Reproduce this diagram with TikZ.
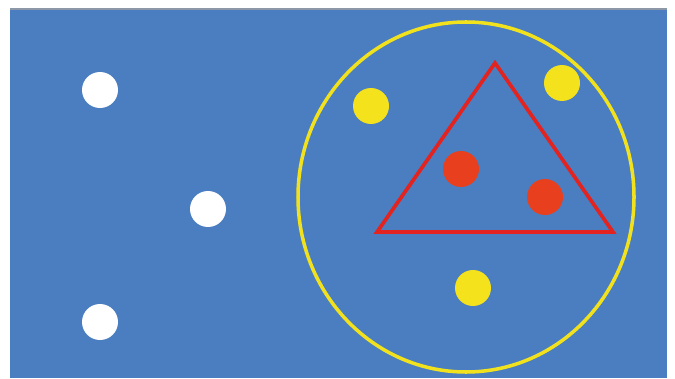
\documentclass[tikz,border=0pt]{standalone}
\usetikzlibrary{positioning}

\begin{document}
\begin{tikzpicture}[x=0.02cm, y=-0.02cm]

% ---------------------------------------------------------------- colours
\definecolor{field}{HTML}{4A7EC1}    % the blue panel
\definecolor{rim}{HTML}{8C98A8}      % thin edge along the top
\definecolor{dotw}{HTML}{FFFFFF}
\definecolor{doty}{HTML}{F4E21C}
\definecolor{dotr}{HTML}{E8401E}
\definecolor{ring}{HTML}{F2E21E}
\definecolor{tri}{HTML}{E2231F}

% ================================================================
% Work in pixels of the 675 x 378 frame, y pointing down.
%   panel x in [10, 667], y in [9, 378]
%   ring centre (466, 197), radii about 168 x 175
%   triangle apex (495, 63), base y = 232 from x = 377 to 613
% ================================================================

\tikzset{
    dot/.style={circle, inner sep=0pt, minimum size=0.72cm},
    whitedot/.style={dot, fill=dotw},
    yellowdot/.style={dot, fill=doty},
    reddot/.style={dot, fill=dotr},
}

\useasboundingbox (0,0) rectangle (675,378);

% ---------------------------------------------------------------- panel
\fill[field] (10,9) rectangle (667,378);
\draw[rim, line width=0.6pt] (10,9) -- (667,9);

% ---------------------------------------------------------------- outside
\node[whitedot] (w1) at (100, 90) {};
\node[whitedot] (w2) at (208,209) {};
\node[whitedot] (w3) at (100,322) {};

% ---------------------------------------------------------------- ring
\draw[ring, line width=2pt] (466,197) ellipse[x radius=168, y radius=175];

\node[yellowdot] (y1) at (371,106) {};
\node[yellowdot] (y2) at (562, 83) {};
\node[yellowdot] (y3) at (473,288) {};

% ---------------------------------------------------------------- triangle
\draw[tri, line width=2.1pt, line join=miter]
    (495,63) -- (613,232) -- (377,232) -- cycle;

\node[reddot] (r1) at (461,169) {};
\node[reddot] (r2) at (545,197) {};

\end{tikzpicture}
\end{document}
